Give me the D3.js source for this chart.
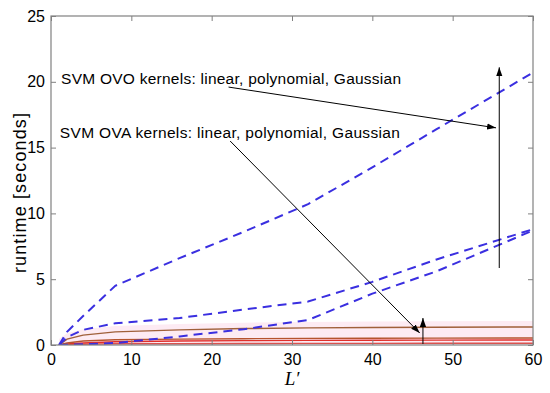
<!DOCTYPE html>
<html>
<head>
<meta charset="utf-8">
<script src="https://cdn.jsdelivr.net/npm/d3@7"></script>
<style>
  body { margin: 0; background: #fff; }
  svg { font-family: "Liberation Sans", Arial, Helvetica, sans-serif; }
</style>
</head>
<body>
<svg id="chart" width="550" height="393"></svg>
<script>
"use strict";

// L' values at which the runtimes were measured
var lvals = [1, 2, 4, 8, 16, 24, 32, 40, 48, 60];

// SVM OVO runtimes (blue dashed)
var ovoGauss  = [0, 1.0, 2.2, 4.5, 6.6, 8.6, 10.7, 13.5, 16.4, 20.7];
var ovoPoly   = [0, 0.6, 1.15, 1.65, 2.05, 2.7, 3.3, 4.8, 6.5, 8.8];
var ovoLinear = [0, 0.02, 0.05, 0.15, 0.65, 1.2, 1.9, 3.9, 5.6, 8.7];

// SVM OVA runtimes (solid)
var ovaGauss  = [0, 0.45, 0.75, 1.0, 1.15, 1.25, 1.3, 1.33, 1.35, 1.37];
var ovaPoly   = [0, 0.15, 0.3, 0.4, 0.45, 0.48, 0.5, 0.51, 0.52, 0.53];
var ovaLinear = [0, 0.08, 0.15, 0.25, 0.3, 0.33, 0.35, 0.36, 0.37, 0.38];
var ovaBase   = [0, 0.03, 0.06, 0.09, 0.1, 0.11, 0.12, 0.12, 0.13, 0.13];

var xTicks = [0, 10, 20, 30, 40, 50, 60];
var yTicks = [0, 5, 10, 15, 20, 25];

// annotation labels and arrows, in data units
var labels = [
  {text: "SVM OVO kernels: linear, polynomial, Gaussian", x: 1.25, y: 19.85},
  {text: "SVM OVA kernels: linear, polynomial, Gaussian", x: 1.1, y: 15.7}
];
var arrows = [
  {x1: 22.1, y1: 19.6, x2: 55.4, y2: 16.5},
  {x1: 55.8, y1: 5.85, x2: 55.8, y2: 21.1},
  {x1: 22.3, y1: 15.5, x2: 45.9, y2: 0.91},
  {x1: 46.3, y1: 0.08, x2: 46.3, y2: 2.05}
];

drawChart();

function drawChart() {
  var svg = d3.select("#chart");
  var mLeft = 51, mRight = 533, mTop = 16, mBottom = 345;

  var x = d3.scaleLinear().domain([0, 60]).range([mLeft, mRight]);
  var y = d3.scaleLinear().domain([0, 25]).range([mBottom, mTop]);

  var defs = svg.append("defs");
  defs.append("clipPath").attr("id", "plotclip")
      .append("rect")
      .attr("x", mLeft).attr("y", mTop)
      .attr("width", mRight - mLeft).attr("height", mBottom - mTop);
  defs.append("marker")
      .attr("id", "head")
      .attr("viewBox", "0 0 10 10")
      .attr("refX", 10).attr("refY", 5)
      .attr("markerWidth", 9).attr("markerHeight", 9)
      .attr("markerUnits", "userSpaceOnUse")
      .attr("orient", "auto")
    .append("path")
      .attr("d", "M0,1.5 L10,5 L0,8.5 Z")
      .attr("fill", "#000");

  var plot = svg.append("g").attr("clip-path", "url(#plotclip)");

  // shaded band under the OVA curves
  var band = d3.area()
      .x(function(d, i) { return x(lvals[i]); })
      .y0(function() { return y(0); })
      .y1(function(d) { return y(d + 0.45); });
  plot.append("path")
      .attr("d", band(ovaGauss))
      .attr("fill", "#fdebf3");

  var line = d3.line()
      .x(function(d, i) { return x(lvals[i]); })
      .y(function(d) { return y(d); });

  var ovaSeries = [
    {v: ovaBase, c: "#d9534f"},
    {v: ovaLinear, c: "#e0302c"},
    {v: ovaPoly, c: "#b5532e"},
    {v: ovaGauss, c: "#a0603a"}
  ];
  ovaSeries.forEach(function(s) {
    plot.append("path")
        .attr("d", line(s.v))
        .attr("fill", "none")
        .attr("stroke", s.c)
        .attr("stroke-width", 1.4);
  });

  [ovoLinear, ovoPoly, ovoGauss].forEach(function(v) {
    plot.append("path")
        .attr("d", line(v))
        .attr("fill", "none")
        .attr("stroke", "#3a2fe0")
        .attr("stroke-width", 2)
        .attr("stroke-dasharray", "9,6");
  });

  // axes: box with inward ticks on all sides
  var axisColor = "#808080";
  function styleAxis(g) {
    g.select(".domain").remove();
    g.selectAll(".tick line").attr("stroke", axisColor);
    g.selectAll(".tick text")
     .attr("fill", "#000")
     .style("font-size", "16px")
     .style("font-family", "'Liberation Sans', Arial, Helvetica, sans-serif");
  }
  svg.append("g")
      .attr("transform", "translate(0," + mBottom + ")")
      .call(d3.axisBottom(x).tickValues(xTicks).tickSizeInner(-5).tickSizeOuter(0).tickPadding(9))
      .call(styleAxis);
  svg.append("g")
      .attr("transform", "translate(" + mLeft + ",0)")
      .call(d3.axisLeft(y).tickValues(yTicks).tickSizeInner(-5).tickSizeOuter(0).tickPadding(6))
      .call(styleAxis);
  svg.append("g")
      .attr("transform", "translate(0," + mTop + ")")
      .call(d3.axisTop(x).tickValues(xTicks).tickSizeInner(-5).tickSizeOuter(0).tickFormat(""))
      .call(styleAxis);
  svg.append("g")
      .attr("transform", "translate(" + mRight + ",0)")
      .call(d3.axisRight(y).tickValues(yTicks).tickSizeInner(-5).tickSizeOuter(0).tickFormat(""))
      .call(styleAxis);
  svg.append("rect")
      .attr("x", mLeft).attr("y", mTop)
      .attr("width", mRight - mLeft).attr("height", mBottom - mTop)
      .attr("fill", "none")
      .attr("stroke", axisColor)
      .attr("stroke-width", 1.2);

  // annotations
  svg.selectAll(".arrow").data(arrows).enter()
    .append("line")
      .attr("class", "arrow")
      .attr("x1", function(d) { return x(d.x1); })
      .attr("y1", function(d) { return y(d.y1); })
      .attr("x2", function(d) { return x(d.x2); })
      .attr("y2", function(d) { return y(d.y2); })
      .attr("stroke", "#000")
      .attr("stroke-width", 1)
      .attr("marker-end", "url(#head)");

  svg.selectAll(".note").data(labels).enter()
    .append("text")
      .attr("class", "note")
      .attr("x", function(d) { return x(d.x); })
      .attr("y", function(d) { return y(d.y); })
      .attr("textLength", 340)
      .attr("lengthAdjust", "spacing")
      .style("font-size", "15.5px")
      .text(function(d) { return d.text; });

  // axis titles
  svg.append("text")
      .attr("transform", "translate(20,193) rotate(-90)")
      .attr("text-anchor", "middle")
      .attr("dy", "0.35em")
      .attr("textLength", 160)
      .attr("lengthAdjust", "spacing")
      .style("font-size", "18px")
      .text("runtime [seconds]");

  svg.append("text")
      .attr("x", x(30))
      .attr("y", 385)
      .attr("text-anchor", "middle")
      .style("font-family", "'Liberation Serif', 'DejaVu Serif', serif")
      .style("font-style", "italic")
      .style("font-size", "19px")
      .text("L\u2032");
}
</script>
</body>
</html>
